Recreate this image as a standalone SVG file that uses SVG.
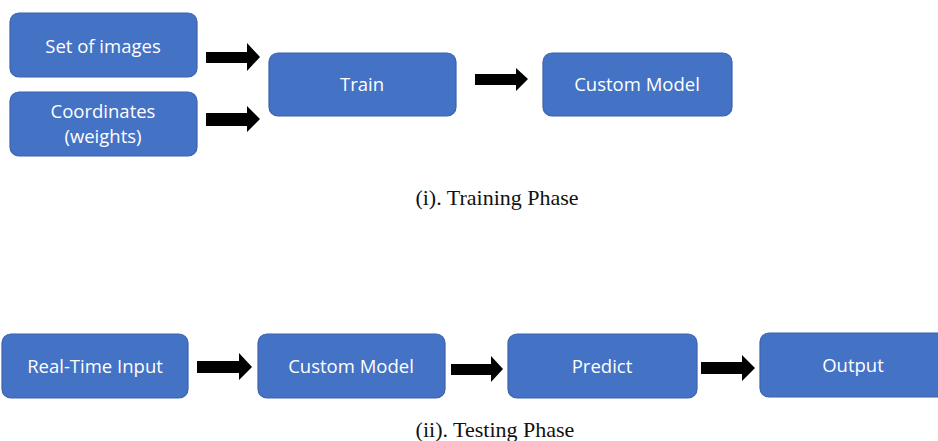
<svg xmlns="http://www.w3.org/2000/svg" width="938" height="441" viewBox="0 0 938 441">
<style>
.box{fill:#4472C4;stroke:#3A63AE;stroke-width:1.2}
.lbl{font-family:"Open Sans","Noto Sans","Liberation Sans",sans-serif;font-size:18.5px;fill:#FFFFFF;text-anchor:middle}
.cap{font-family:"Liberation Serif","Times New Roman",serif;font-size:22px;fill:#111111;text-anchor:middle}
.arr{fill:#000000}
</style>
<rect width="938" height="441" fill="#FFFFFF"/>
<g id="n-set"><rect class="box" x="10" y="13" width="187" height="64" rx="9"/><text class="lbl" x="103" y="53">Set of images</text></g>
<g id="n-coord"><rect class="box" x="10" y="92" width="187" height="64" rx="9"/><text class="lbl" x="103" y="118">Coordinates</text><text class="lbl" x="103" y="143">(weights)</text></g>
<g id="n-train"><rect class="box" x="269" y="53" width="187" height="63" rx="9"/><text class="lbl" x="362" y="91">Train</text></g>
<g id="n-model1"><rect class="box" x="543" y="53" width="189" height="63" rx="9"/><text class="lbl" x="637" y="91">Custom Model</text></g>
<g id="n-input"><rect class="box" x="2" y="334" width="186" height="64" rx="9"/><text class="lbl" x="95" y="373">Real-Time Input</text></g>
<g id="n-model2"><rect class="box" x="258" y="334" width="187" height="64" rx="9"/><text class="lbl" x="351" y="373">Custom Model</text></g>
<g id="n-predict"><rect class="box" x="508" y="334" width="189" height="64" rx="9"/><text class="lbl" x="602" y="373">Predict</text></g>
<g id="n-output"><rect class="box" x="760" y="333" width="187" height="64" rx="9"/><text class="lbl" x="853" y="372">Output</text></g>
<g id="connectors">
<polygon class="arr" points="206,52 247,52 247,43 260,57 247,71 247,63 206,63"/>
<polygon class="arr" points="206,113 247,113 247,106 260,119 247,132 247,126 206,126"/>
<polygon class="arr" points="475,74 516,74 516,68 528,79 516,91 516,85 475,85"/>
<polygon class="arr" points="197,361 239,361 239,353 252,367 239,380 239,373 197,373"/>
<polygon class="arr" points="451,364 491,364 491,356 503,369 491,382 491,375 451,375"/>
<polygon class="arr" points="701,362 742,362 742,355 755,368 742,381 742,374 701,374"/>
</g>
<text class="cap" x="497" y="205">(i). Training Phase</text>
<text class="cap" x="495" y="437">(ii). Testing Phase</text>
</svg>
